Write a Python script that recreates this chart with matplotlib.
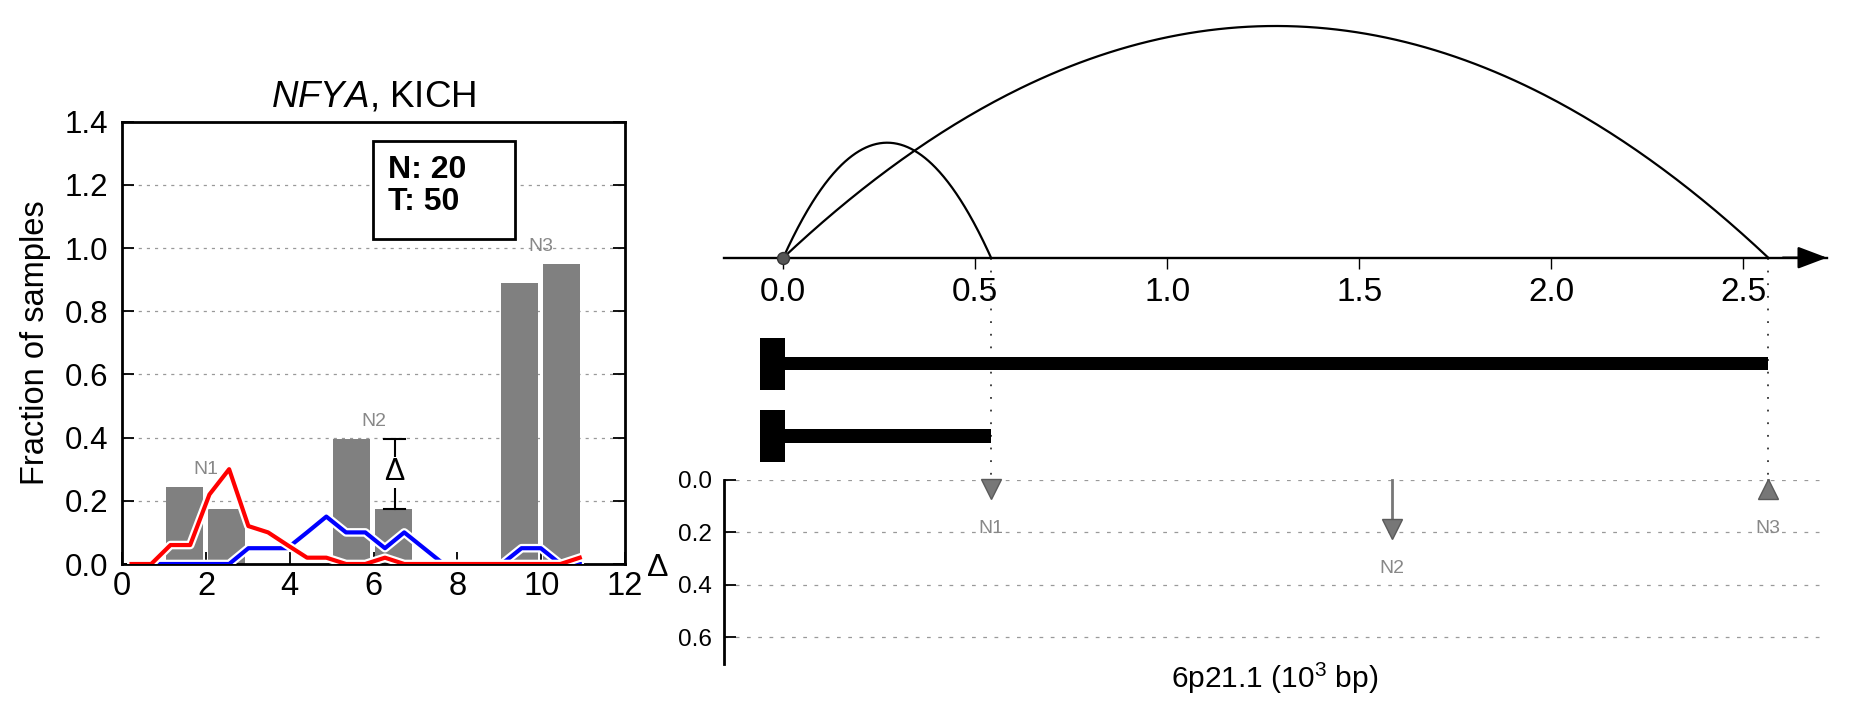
import numpy as np
import matplotlib
matplotlib.use('Agg')
import matplotlib.pyplot as plt
import matplotlib.patheffects as pe
from matplotlib.patches import Rectangle

plt.rcParams['font.family'] = ['Liberation Sans', 'DejaVu Sans']
plt.rcParams['mathtext.fontset'] = 'custom'
plt.rcParams['mathtext.rm'] = 'Liberation Sans'
plt.rcParams['mathtext.it'] = 'Liberation Sans:italic'
plt.rcParams['mathtext.bf'] = 'Liberation Sans:bold'

# ---------------- data ----------------
gene = 'NFYA'
cancer = 'KICH'
n_normal = 20
n_tumor = 50

bar_bins = [1, 2, 5, 6, 9, 10]
bar_heights = [0.245, 0.175, 0.395, 0.175, 0.89, 0.95]
node_names = ['N1', 'N2', 'N3']
node_label_bins = [2, 6, 10]

line_x = [0.22, 0.69, 1.15, 1.62, 2.08, 2.55, 3.01, 3.48, 3.94, 4.41, 4.87, 5.34,
          5.80, 6.27, 6.73, 7.20, 7.67, 8.13, 8.60, 9.06, 9.53, 9.99, 10.46, 10.92]
tumor_frac = [0, 0, 0.06, 0.06, 0.22, 0.30, 0.12, 0.10, 0.06, 0.02, 0.02, 0,
              0, 0.02, 0, 0, 0, 0, 0, 0, 0, 0, 0, 0.02]
normal_frac = [0, 0, 0, 0, 0, 0, 0.05, 0.05, 0.05, 0.10, 0.15, 0.10,
               0.10, 0.05, 0.10, 0.05, 0, 0, 0, 0, 0.05, 0.05, 0, 0]

# genomic positions (10^3 bp)
anchor_pos = 0.0
node_pos = [0.541, 1.586, 2.565]
arc_ends = [0.541, 2.565]
arc_heights = [1.15, 2.317]
tx_starts = [0.0, 0.0]
tx_ends = [2.565, 0.541]
delta_vals = [0.074, 0.226, 0.074]
delta_dirs = ['down', 'down', 'up']
xtick_vals = [0.0, 0.5, 1.0, 1.5, 2.0, 2.5]
delta_ticks = [0.0, 0.2, 0.4, 0.6]

# ---------------- figure ----------------
W, H = 1851, 718
fig = plt.figure(figsize=(W / 100, H / 100), dpi=100)


def px_axes(x0, y0, x1, y1):
    return fig.add_axes([x0 / W, 1 - y1 / H, (x1 - x0) / W, (y1 - y0) / H])


# ---------- left panel ----------
ax = px_axes(122.3, 121.6, 625, 564)
ax.set_xlim(0, 12)
ax.set_ylim(0, 1.4)
ax.bar(np.array(bar_bins) + 0.48, bar_heights, width=0.88, color='#808080', zorder=2)
stroke = [pe.Stroke(linewidth=6.2, foreground='white'), pe.Normal()]
ax.plot(line_x, normal_frac, color='#0000ff', lw=3.0, zorder=3, path_effects=stroke)
ax.plot(line_x, tumor_frac, color='#ff0000', lw=3.0, zorder=4, path_effects=stroke)

for name, b in zip(node_names, node_label_bins):
    hmax = max(h for bb, h in zip(bar_bins, bar_heights) if bb in (b - 1, b))
    ax.text(b, hmax + 0.055, name, color='#888888', fontsize=14, ha='center', va='center', zorder=5)

# delta marker between N2 bars
top_h, bot_h = bar_heights[2], bar_heights[3]
xc = bar_bins[3] + 0.5
ax.plot([xc, xc], [bot_h, top_h], color='k', lw=1.5, zorder=5)
ax.plot([xc - 0.26, xc + 0.26], [top_h, top_h], color='k', lw=1.5, zorder=5)
ax.plot([xc - 0.26, xc + 0.26], [bot_h, bot_h], color='k', lw=1.5, zorder=5)
ax.text(xc, (top_h + bot_h) / 2 + 0.005, 'Δ', fontsize=22, ha='center', va='center', zorder=6,
        bbox=dict(facecolor='white', edgecolor='none', pad=0.5))

# info box
ax.add_patch(Rectangle((5.98, 1.027), 3.39, 0.313, facecolor='white', edgecolor='k', lw=2, zorder=6))
ax.text(6.35, 1.196, f'N: {n_normal}\nT: {n_tumor}', fontsize=23, fontweight='bold',
        ha='left', va='center', linespacing=1.05, zorder=7)

ax.set_xticks(range(0, 13, 2))
ax.set_yticks(np.arange(0, 1.41, 0.2))
ax.set_yticklabels([f'{v:.1f}' for v in np.arange(0, 1.41, 0.2)])
ax.tick_params(direction='in', length=8.5, width=1.3, left=True, right=True, top=False,
               bottom=True)
ax.tick_params(axis='y', pad=10, labelsize=22.5)
ax.tick_params(axis='x', pad=5, labelsize=23.5)
ax.yaxis.grid(True, linestyle=(0, (2.5, 4)), color='#999999', lw=0.9)
ax.set_axisbelow(True)
for s in ax.spines.values():
    s.set_linewidth(2)
ax.set_title(rf'$\mathit{{{gene}}}$, {cancer}', fontsize=26.5, pad=11)
ax.text(-0.173, 0.5, 'Fraction of samples', transform=ax.transAxes, rotation=90,
        ha='center', va='center', fontsize=23.5)

# ---------- right top: arcs + transcripts ----------
XL = (-0.1544, 2.7180)
axT = px_axes(724, 10, 1827, 480)
axT.set_xlim(*XL)
axT.set_ylim(-2.223, 2.477)
for k in ['top', 'left', 'right']:
    axT.spines[k].set_visible(False)
axT.spines['bottom'].set_position(('data', 0))
axT.spines['bottom'].set_linewidth(1.7)
axT.set_yticks([])
axT.set_xticks(xtick_vals)
axT.set_xticklabels([f'{v:.1f}' for v in xtick_vals])
axT.tick_params(axis='x', direction='out', length=7.7, width=1, labelsize=24, pad=6)
axT.annotate('', xy=(1.0, 0), xycoords=('axes fraction', 'data'),
             xytext=(0.96, 0), textcoords=('axes fraction', 'data'),
             arrowprops=dict(arrowstyle='-|>,head_length=0.9,head_width=0.34', mutation_scale=20,
                             lw=1.7, color='k', shrinkA=0, shrinkB=0), annotation_clip=False)

t = np.linspace(0, 1, 300)
for e, h in zip(arc_ends, arc_heights):
    xs = anchor_pos + (e - anchor_pos) * t
    ys = 4 * h * t * (1 - t)
    axT.plot(xs, ys, color='k', lw=1.6, zorder=3)
axT.plot([anchor_pos], [0], 'o', ms=8.6, color='#555555', mec='#333333', zorder=5, clip_on=False)

row_y = [-1.058, -1.783]
for s0, e0, y in zip(tx_starts, tx_ends, row_y):
    axT.barh(y, e0 - s0, left=s0, height=0.137, color='k', zorder=3)
    axT.barh(y, 0.065, left=s0 - 0.061, height=0.52, color='k', zorder=3)

for x in arc_ends:
    axT.plot([x, x], [0, -2.223], ls=(0, (1, 6)), color='#333333', lw=1.3, zorder=2, clip_on=False)

# ---------- right bottom: delta ----------
axD = px_axes(724, 480, 1827, 664)
axD.set_xlim(*XL)
axD.set_ylim(0.702, 0)
for k in ['top', 'right', 'bottom']:
    axD.spines[k].set_visible(False)
axD.spines['left'].set_linewidth(2)
axD.set_xticks([])
axD.set_yticks(delta_ticks)
axD.set_yticklabels([f'{v:.1f}' for v in delta_ticks])
axD.tick_params(axis='y', direction='in', length=8.6, width=1.3, labelsize=17.5, pad=8.5)
axD.yaxis.grid(True, linestyle=(0, (3, 6)), color='#999999', lw=0.9)
axD.set_axisbelow(True)

for name, x, d, dr in zip(node_names, node_pos, delta_vals, delta_dirs):
    c = d - 0.04
    axD.plot([x, x], [0, c], color='#777777', lw=2, zorder=3, clip_on=False)
    axD.plot([x], [c], marker='v' if dr == 'down' else '^', ms=15, color='#777777',
             mec='#5a5a5a', mew=1, zorder=4, clip_on=False)
    axD.text(x, d + 0.11, name, color='#888888', fontsize=14, ha='center', va='center', zorder=5)

axD.text(-0.0598, 0.522, 'Δ', transform=axD.transAxes, fontsize=23, ha='center', va='center')
axD.text(0.499, -0.08, r'6p21.1 (10$^3$ bp)', transform=axD.transAxes, fontsize=21.5,
         ha='center', va='center')

fig.savefig('out.png', dpi=100)
